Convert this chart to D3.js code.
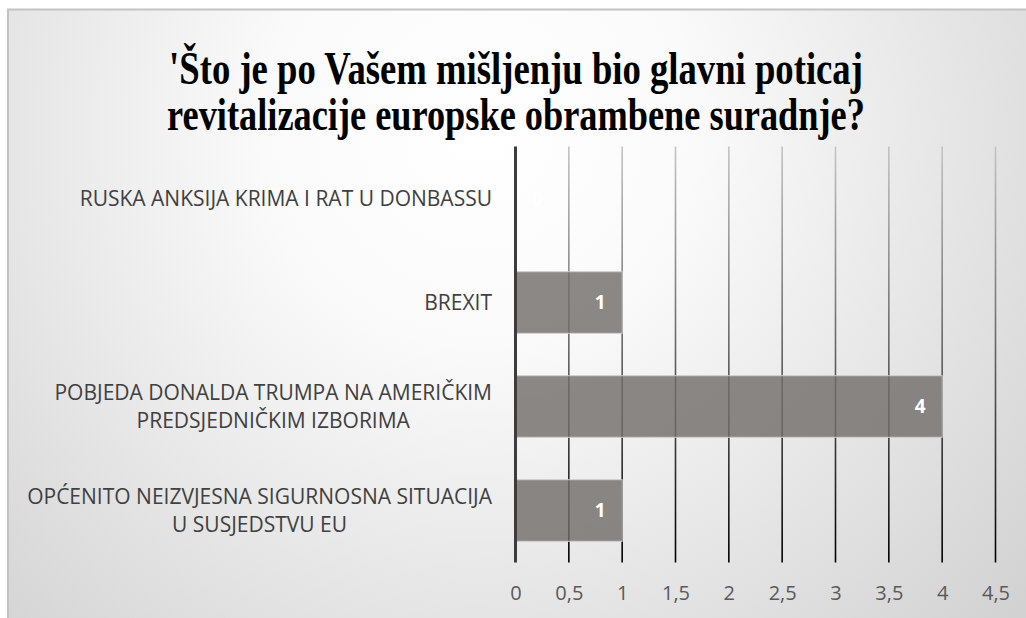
<!DOCTYPE html>
<html>
<head>
<meta charset="utf-8">
<script src="https://cdn.jsdelivr.net/npm/d3@7"></script>
<style>
  html, body { margin: 0; padding: 0; background: #ffffff; }
  svg { display: block; }
</style>
</head>
<body>
<div id="chart"></div>
<script>
// Survey answers: number of respondents per option
const categories = [
  "RUSKA ANKSIJA KRIMA I RAT U DONBASSU",
  "BREXIT",
  "POBJEDA DONALDA TRUMPA NA AMERIČKIM\nPREDSJEDNIČKIM IZBORIMA",
  "OPĆENITO NEIZVJESNA SIGURNOSNA SITUACIJA\nU SUSJEDSTVU EU"
];
const values = [0, 1, 4, 1];
const tickValues = [0, 0.5, 1, 1.5, 2, 2.5, 3, 3.5, 4, 4.5];
const titleLines = [
  "'Što je po Vašem mišljenju bio glavni poticaj",
  "revitalizacije europske obrambene suradnje?"
];

const W = 1026, H = 618;
const plot = { left: 515.5, right: 995.5, top: 146.5, bottom: 562.5 };

const svg = d3.select("#chart").append("svg")
  .attr("width", W).attr("height", H);

const defs = svg.append("defs");

// soft radial background of the chart area
const bg = defs.append("radialGradient")
  .attr("id", "bgGrad")
  .attr("gradientUnits", "userSpaceOnUse")
  .attr("cx", 480).attr("cy", 130).attr("r", 720);
bg.append("stop").attr("offset", 0).attr("stop-color", "#ffffff");
bg.append("stop").attr("offset", 0.3).attr("stop-color", "#fafafa");
bg.append("stop").attr("offset", 1).attr("stop-color", "#d2d2d2");

// gridlines fade from grey at the top to black at the bottom
const gg = defs.append("linearGradient")
  .attr("id", "gridGrad")
  .attr("gradientUnits", "userSpaceOnUse")
  .attr("x1", 0).attr("y1", plot.top).attr("x2", 0).attr("y2", plot.bottom);
gg.append("stop").attr("offset", 0).attr("stop-color", "#c4c4c4");
gg.append("stop").attr("offset", 1).attr("stop-color", "#000000");

svg.append("rect")
  .attr("x", 8).attr("y", 9.5)
  .attr("width", W + 20).attr("height", H + 20)
  .attr("fill", "url(#bgGrad)")
  .attr("stroke", "#c3c3c3")
  .attr("stroke-width", 2);

// title: condensed bold serif, each line squeezed horizontally to its width
const titleWidths = [694, 698];
titleLines.forEach((t, i) => {
  const g = svg.append("g");
  const txt = g.append("text")
    .attr("font-family", "'Liberation Serif', 'Times New Roman', serif")
    .attr("font-weight", "bold")
    .attr("font-size", 46)
    .attr("fill", "#000000")
    .attr("text-anchor", "middle")
    .attr("x", 0).attr("y", 0)
    .text(t);
  const natural = txt.node().getComputedTextLength();
  const sx = titleWidths[i] / natural;
  g.attr("transform", `translate(516,${84 + i * 46}) scale(${sx},1)`);
});

// scales
const x = d3.scaleLinear()
  .domain([0, 4.5])
  .range([plot.left, plot.right]);

const y = d3.scaleBand()
  .domain(categories)
  .range([plot.top, plot.bottom])
  .paddingInner(0.408)
  .paddingOuter(0.204);

// vertical gridlines
svg.append("g")
  .selectAll("line")
  .data(tickValues.filter(d => d > 0))
  .join("line")
  .attr("x1", d => x(d)).attr("x2", d => x(d))
  .attr("y1", plot.top).attr("y2", plot.bottom)
  .attr("stroke", "url(#gridGrad)")
  .attr("stroke-width", 1.6);

// bars
svg.append("g")
  .selectAll("rect")
  .data(values)
  .join("rect")
  .attr("x", x(0))
  .attr("y", (d, i) => y(categories[i]))
  .attr("width", d => x(d) - x(0))
  .attr("height", y.bandwidth())
  .attr("fill", "rgb(115,110,107)")
  .attr("fill-opacity", 0.82)
  .attr("stroke", "#cfcfcf")
  .attr("stroke-width", d => d > 0 ? 1 : 0);

// zero axis line
svg.append("line")
  .attr("x1", x(0)).attr("x2", x(0))
  .attr("y1", plot.top).attr("y2", plot.bottom)
  .attr("stroke", "#3c3c3c")
  .attr("stroke-width", 3);

// value labels
svg.append("g")
  .selectAll("text")
  .data(values)
  .join("text")
  .attr("x", d => d > 0 ? x(d) - 22 : x(d) + 22)
  .attr("y", (d, i) => y(categories[i]) + y.bandwidth() / 2)
  .attr("dy", "0.36em")
  .attr("text-anchor", "middle")
  .attr("font-family", "'Open Sans', sans-serif")
  .attr("font-weight", "bold")
  .attr("font-size", 19)
  .attr("fill", "#ffffff")
  .text(d => d);

// x axis tick labels
const xAxis = d3.axisBottom(x)
  .tickValues(tickValues)
  .tickSize(0)
  .tickPadding(0)
  .tickFormat(d => String(d).replace(".", ","));

const xa = svg.append("g")
  .attr("transform", `translate(0,${plot.bottom + 23})`)
  .call(xAxis);
xa.select(".domain").remove();
xa.selectAll("text")
  .attr("font-family", "'Open Sans', sans-serif")
  .attr("font-size", 20)
  .attr("fill", "#595959")
  .attr("dy", "0.71em");

// category labels: lines centred on each other, block right-aligned to the axis
const labelRight = 492;
const lineGap = 28.5;
const catG = svg.append("g");
categories.forEach((c, i) => {
  const lines = c.split("\n");
  const t = catG.append("text")
    .attr("font-family", "'Open Sans', sans-serif")
    .attr("font-size", 21)
    .attr("fill", "#404040")
    .attr("text-anchor", "middle");
  const cy = y(c) + y.bandwidth() / 2;
  const spans = lines.map((ln, k) =>
    t.append("tspan")
      .attr("y", cy + (k - (lines.length - 1) / 2) * lineGap)
      .attr("dy", "0.36em")
      .text(ln));
  const maxW = d3.max(spans, s => s.node().getComputedTextLength());
  spans.forEach(s => s.attr("x", labelRight - maxW / 2));
});
</script>
</body>
</html>
